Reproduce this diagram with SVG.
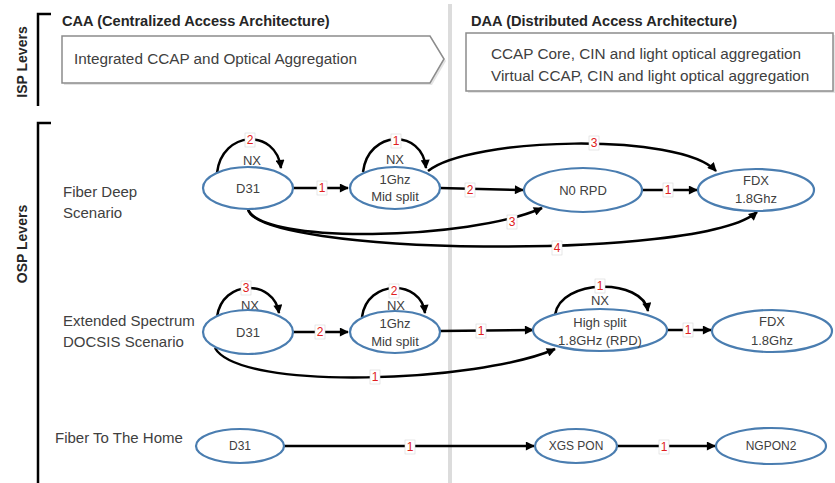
<svg xmlns="http://www.w3.org/2000/svg" width="835" height="483" viewBox="0 0 835 483">
  <defs>
    <marker id="arr" viewBox="0 0 10 10" refX="9" refY="5" markerWidth="10" markerHeight="9" markerUnits="userSpaceOnUse" orient="auto">
      <path d="M0,0 L10,5 L0,10 z" fill="#000"/>
    </marker>
    <style>
      .t { font-family: "Liberation Sans", Arial, sans-serif; fill: #404040; }
      .hdr { font-family: "Liberation Sans", Arial, sans-serif; font-weight: bold; fill: #262626; font-size: 14.6px; }
      .lev { font-family: "Liberation Sans", Arial, sans-serif; font-weight: bold; fill: #262626; font-size: 14px; }
      .row { font-family: "Liberation Sans", Arial, sans-serif; fill: #404040; font-size: 15px; }
      .nd ellipse { fill: #fff; stroke: #4a7db0; stroke-width: 2.2; }
      .nd text { font-family: "Liberation Sans", Arial, sans-serif; fill: #404040; font-size: 13px; text-anchor: middle; }
      .nd.s text { font-size: 12px; }
      .e path { fill: none; stroke: #000; stroke-width: 2.5; marker-end: url(#arr); }
      .lb rect { fill: #fff; stroke: #d8d8d8; stroke-width: 0.6; }
      .lb text { font-family: "Liberation Sans", Arial, sans-serif; fill: #e02020; font-size: 12px; text-anchor: middle; }
      .nx { font-family: "Liberation Sans", Arial, sans-serif; fill: #404040; font-size: 13px; text-anchor: middle; }
      .br { fill: none; stroke: #000; stroke-width: 2.5; }
    </style>
  </defs>

  <!-- divider -->
  <line x1="450" y1="4" x2="450" y2="483" stroke="#dcdcdc" stroke-width="4"/>

  <!-- brackets -->
  <g id="isp-levers">
    <path class="br" d="M51,14 L38,14 L38,106"/>
    <text class="lev" transform="translate(27,62) rotate(-90)" text-anchor="middle">ISP Levers</text>
  </g>
  <g id="osp-levers">
    <path class="br" d="M51,123 L38,123 L38,483"/>
    <text class="lev" transform="translate(27,244) rotate(-90)" text-anchor="middle">OSP Levers</text>
  </g>

  <!-- top headers -->
  <g id="caa">
    <text class="hdr" x="62" y="26">CAA (Centralized Access Architecture)</text>
    <polygon points="64,38 432,38 446,61 432,85 64,85" fill="#e4e4e4" stroke="none"/>
    <polygon points="62,36 430,36 444,59 430,83 62,83" fill="#fff" stroke="#8c8c8c" stroke-width="1.5"/>
    <text class="t" x="74" y="64" font-size="15.3">Integrated CCAP and Optical Aggregation</text>
  </g>
  <g id="daa">
    <text class="hdr" x="471" y="26">DAA (Distributed Access Architecture)</text>
    <rect x="468" y="35" width="367" height="58" fill="#e4e4e4"/>
    <rect x="466" y="33" width="367" height="58" fill="#fff" stroke="#8c8c8c" stroke-width="1.5"/>
    <text class="t" x="491" y="59" font-size="15.3">CCAP Core, CIN and light optical aggregation</text>
    <text class="t" x="491" y="81" font-size="15.3">Virtual CCAP, CIN and light optical aggregation</text>
  </g>

  <!-- row labels -->
  <g id="row-fiber-deep">
    <text class="row" x="63" y="197">Fiber Deep</text>
    <text class="row" x="63" y="218">Scenario</text>
  </g>
  <g id="row-esd">
    <text class="row" x="63" y="326">Extended Spectrum</text>
    <text class="row" x="63" y="347">DOCSIS Scenario</text>
  </g>
  <g id="row-ftth">
    <text class="row" x="55" y="443">Fiber To The Home</text>
  </g>

  <!-- connectors -->
  <g id="connectors" class="e">
    <!-- row 1 -->
    <path d="M217,173 C222,130 276,128 281,168"/>
    <path d="M363,172 C368,130 422,128 426,168"/>
    <path d="M293,188 L348,188"/>
    <path d="M440,188 L523,190"/>
    <path d="M642,190 L697,190"/>
    <path d="M428,171 C470,137 680,132 716,171"/>
    <path d="M248,209 C260,245 470,240 542,208"/>
    <path d="M248,209 C255,255 700,262 757,212"/>
    <!-- row 2 -->
    <path d="M217,317 C222,279 274,279 279,313"/>
    <path d="M362,317 C367,279 421,279 425,313"/>
    <path d="M555,315 C560,278 643,278 648,311"/>
    <path d="M293,332 L348,332"/>
    <path d="M440,331 L533,330"/>
    <path d="M667,330 L711,330"/>
    <path d="M215,348 C240,392 480,382 555,349"/>
    <!-- row 3 -->
    <path d="M284,446 L534,446"/>
    <path d="M617,446 L715,446"/>
  </g>

  <!-- NX labels -->
  <g id="nx-labels">
    <text class="nx" x="252" y="165">NX</text>
    <text class="nx" x="395" y="164">NX</text>
    <text class="nx" x="250" y="310">NX</text>
    <text class="nx" x="396" y="310">NX</text>
    <text class="nx" x="600" y="305">NX</text>
  </g>

  <!-- edge labels -->
  <g id="edge-labels" class="lb">
    <rect x="245" y="133" width="10" height="14"/><text x="250" y="144">2</text>
    <rect x="391" y="134" width="10" height="14"/><text x="396" y="145">1</text>
    <rect x="317" y="181" width="10" height="14"/><text x="322" y="192">1</text>
    <rect x="465" y="183" width="10" height="14"/><text x="470" y="194">2</text>
    <rect x="663" y="183" width="10" height="14"/><text x="668" y="194">1</text>
    <rect x="589" y="136" width="10" height="14"/><text x="594" y="147">3</text>
    <rect x="507" y="215" width="10" height="14"/><text x="512" y="226">3</text>
    <rect x="552" y="241" width="10" height="14"/><text x="557" y="252">4</text>

    <rect x="241" y="281" width="10" height="14"/><text x="246" y="292">3</text>
    <rect x="389" y="284" width="10" height="14"/><text x="394" y="295">2</text>
    <rect x="595" y="279" width="10" height="14"/><text x="600" y="290">1</text>
    <rect x="315" y="325" width="10" height="14"/><text x="320" y="336">2</text>
    <rect x="476" y="324" width="10" height="14"/><text x="481" y="335">1</text>
    <rect x="683" y="323" width="10" height="14"/><text x="688" y="334">1</text>
    <rect x="370" y="370" width="10" height="14"/><text x="375" y="381">1</text>

    <rect x="405" y="440" width="10" height="14"/><text x="410" y="451">1</text>
    <rect x="659" y="440" width="10" height="14"/><text x="664" y="451">1</text>
  </g>

  <!-- nodes row 1 -->
  <g id="fd-d31" class="nd">
    <ellipse cx="248" cy="188" rx="45" ry="21"/>
    <text x="248" y="193">D31</text>
  </g>
  <g id="fd-1ghz" class="nd">
    <ellipse cx="395" cy="188" rx="45" ry="21"/>
    <text x="395" y="184">1Ghz</text>
    <text x="395" y="201">Mid split</text>
  </g>
  <g id="fd-n0rpd" class="nd">
    <ellipse cx="583" cy="190" rx="59" ry="22"/>
    <text x="583" y="195">N0 RPD</text>
  </g>
  <g id="fd-fdx" class="nd">
    <ellipse cx="756" cy="190" rx="58" ry="21"/>
    <text x="756" y="185">FDX</text>
    <text x="756" y="203">1.8Ghz</text>
  </g>

  <!-- nodes row 2 -->
  <g id="es-d31" class="nd">
    <ellipse cx="248" cy="332" rx="45" ry="22"/>
    <text x="248" y="337">D31</text>
  </g>
  <g id="es-1ghz" class="nd">
    <ellipse cx="395" cy="332" rx="45" ry="21"/>
    <text x="395" y="328">1Ghz</text>
    <text x="395" y="346">Mid split</text>
  </g>
  <g id="es-highsplit" class="nd">
    <ellipse cx="600" cy="330" rx="67" ry="21"/>
    <text x="600" y="327">High split</text>
    <text x="600" y="345">1.8GHz (RPD)</text>
  </g>
  <g id="es-fdx" class="nd">
    <ellipse cx="772" cy="331" rx="60" ry="21"/>
    <text x="772" y="326">FDX</text>
    <text x="772" y="345">1.8Ghz</text>
  </g>

  <!-- nodes row 3 -->
  <g id="ftth-d31" class="nd s">
    <ellipse cx="240" cy="446" rx="44" ry="17"/>
    <text x="240" y="450">D31</text>
  </g>
  <g id="ftth-xgspon" class="nd s">
    <ellipse cx="576" cy="446" rx="41" ry="17"/>
    <text x="576" y="450">XGS PON</text>
  </g>
  <g id="ftth-ngpon2" class="nd s">
    <ellipse cx="771" cy="446" rx="55" ry="18"/>
    <text x="771" y="450">NGPON2</text>
  </g>
</svg>
